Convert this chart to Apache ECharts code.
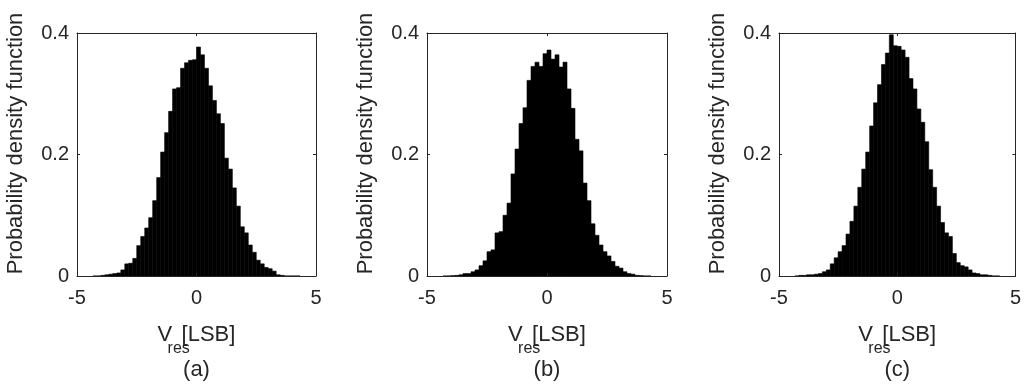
<!DOCTYPE html>
<html>
<head>
<meta charset="utf-8">
<script src="https://cdn.jsdelivr.net/npm/echarts@6/dist/echarts.min.js"></script>
<style>
html,body{margin:0;padding:0;background:#fff;}
#chart{width:1024px;height:386px;}
</style>
</head>
<body>
<div id="chart"></div>
<script>
// Histogram bin centres (LSB), shared by the three panels
const binCenters = [-4.25,-4.083,-3.917,-3.75,-3.583,-3.417,-3.25,-3.083,-2.917,-2.75,-2.583,-2.417,-2.25,-2.083,-1.917,-1.75,-1.583,-1.417,-1.25,-1.083,-0.917,-0.75,-0.583,-0.417,-0.25,-0.083,0.083,0.25,0.417,0.583,0.75,0.917,1.083,1.25,1.417,1.583,1.75,1.917,2.083,2.25,2.417,2.583,2.75,2.917,3.083,3.25,3.417,3.583,3.75,3.917,4.083,4.25];
const binWidth = 1/6;

// Probability density per bin
const pdfA = [0,0,0.001,0.002,0.003,0.004,0.005,0.010,0.020,0.021,0.029,0.050,0.065,0.079,0.096,0.124,0.162,0.204,0.236,0.271,0.308,0.310,0.342,0.351,0.355,0.356,0.377,0.364,0.342,0.313,0.289,0.267,0.251,0.194,0.176,0.145,0.115,0.081,0.071,0.051,0.039,0.026,0.020,0.014,0.012,0.008,0.002,0.001,0,0,0,0];
const pdfB = [0,0,0.0005,0.001,0.002,0.004,0.004,0.007,0.010,0.017,0.025,0.040,0.043,0.071,0.073,0.100,0.120,0.168,0.209,0.251,0.277,0.322,0.345,0.352,0.345,0.366,0.372,0.357,0.364,0.344,0.352,0.308,0.276,0.225,0.206,0.153,0.124,0.086,0.067,0.051,0.040,0.033,0.024,0.016,0.013,0.007,0.004,0.003,0.001,0.0005,0,0];
const pdfC = [0,0.001,0.001,0.002,0.002,0.003,0.004,0.007,0.010,0.020,0.030,0.040,0.050,0.069,0.090,0.115,0.146,0.176,0.204,0.247,0.285,0.315,0.348,0.367,0.397,0.379,0.378,0.372,0.360,0.325,0.308,0.275,0.253,0.221,0.175,0.146,0.115,0.088,0.071,0.065,0.037,0.022,0.017,0.015,0.010,0.005,0.004,0.002,0.002,0.001,0,0];

const xTicks = [-5, 0, 5];
const yTicks = [0, 0.2, 0.4];
const panelLabels = ['(a)', '(b)', '(c)'];
const yTitle = 'Probability density function';
const xTitleMain = 'V';
const xTitleSub = 'res';
const xTitleUnit = '[LSB]';

const panels = [pdfA, pdfB, pdfC];
const gridBoxes = [
  {left: 77, top: 33, width: 239, height: 245},
  {left: 427, top: 33, width: 240, height: 245},
  {left: 779, top: 33, width: 239, height: 245}
];

const AX = '#262626';
const FONT = '"Liberation Sans", Arial, Helvetica, sans-serif';

const option = {
  animation: false,
  backgroundColor: '#fff',
  grid: gridBoxes,
  xAxis: [],
  yAxis: [],
  series: []
};

panels.forEach((vals, i) => {
  option.xAxis.push({
    type: 'value', gridIndex: i, position: 'bottom',
    min: xTicks[0], max: xTicks[xTicks.length - 1], interval: xTicks[1] - xTicks[0],
    z: 10,
    axisLine: {show: true, onZero: false, lineStyle: {color: AX, width: 1}},
    axisTick: {show: true, inside: true, length: 3, lineStyle: {color: AX}},
    axisLabel: {show: true, color: AX, fontSize: 20, fontFamily: FONT, margin: 12},
    splitLine: {show: false},
    name: '{v|' + xTitleMain + '}{s|' + xTitleSub + '}{m|' + xTitleUnit + '}\n{p|' + panelLabels[i] + '}',
    nameLocation: 'middle',
    nameGap: 48,
    nameTextStyle: {
      color: AX, fontFamily: FONT,
      rich: {
        v: {fontSize: 22, fontFamily: FONT, color: AX, lineHeight: 33, verticalAlign: 'top', width: 10, align: 'left'},
        s: {fontSize: 16, fontFamily: FONT, color: AX, lineHeight: 33, verticalAlign: 'bottom', width: 14, align: 'left'},
        m: {fontSize: 22, fontFamily: FONT, color: AX, lineHeight: 33, verticalAlign: 'top'},
        p: {fontSize: 22, fontFamily: FONT, color: AX, lineHeight: 26}
      }
    }
  });
  option.xAxis.push({
    type: 'value', gridIndex: i, position: 'top',
    min: xTicks[0], max: xTicks[xTicks.length - 1], interval: xTicks[1] - xTicks[0],
    z: 10,
    axisLine: {show: true, onZero: false, lineStyle: {color: AX, width: 1}},
    axisTick: {show: true, inside: true, length: 3, lineStyle: {color: AX}},
    axisLabel: {show: false},
    splitLine: {show: false}
  });
  option.yAxis.push({
    type: 'value', gridIndex: i, position: 'left',
    min: yTicks[0], max: yTicks[yTicks.length - 1], interval: yTicks[1] - yTicks[0],
    z: 10,
    axisLine: {show: true, onZero: false, lineStyle: {color: AX, width: 1}},
    axisTick: {show: true, inside: true, length: 3, lineStyle: {color: AX}},
    axisLabel: {show: true, color: AX, fontSize: 20, fontFamily: FONT, margin: 8},
    splitLine: {show: false},
    name: yTitle,
    nameLocation: 'middle',
    nameRotate: 90,
    nameGap: 50,
    nameTextStyle: {color: AX, fontSize: 22, fontFamily: FONT, padding: [0, 0, 0, 22]}
  });
  option.yAxis.push({
    type: 'value', gridIndex: i, position: 'right',
    min: yTicks[0], max: yTicks[yTicks.length - 1], interval: yTicks[1] - yTicks[0],
    z: 10,
    axisLine: {show: true, onZero: false, lineStyle: {color: AX, width: 1}},
    axisTick: {show: true, inside: true, length: 3, lineStyle: {color: AX}},
    axisLabel: {show: false},
    splitLine: {show: false}
  });

  option.series.push({
    type: 'custom',
    xAxisIndex: i * 2,
    yAxisIndex: i * 2,
    data: binCenters.map((c, j) => [c, vals[j]]),
    renderItem: function (params, api) {
      const c = api.value(0), v = api.value(1);
      const p0 = api.coord([c - binWidth / 2, v]);
      const p1 = api.coord([c + binWidth / 2, 0]);
      return {
        type: 'rect',
        shape: {x: p0[0], y: p0[1], width: p1[0] - p0[0], height: p1[1] - p0[1]},
        style: {fill: '#000', stroke: '#000', lineWidth: 0.6}
      };
    },
    z: 2
  });
});

const chart = echarts.init(document.getElementById('chart'), null, {renderer: 'canvas'});
chart.setOption(option);
</script>
</body>
</html>
